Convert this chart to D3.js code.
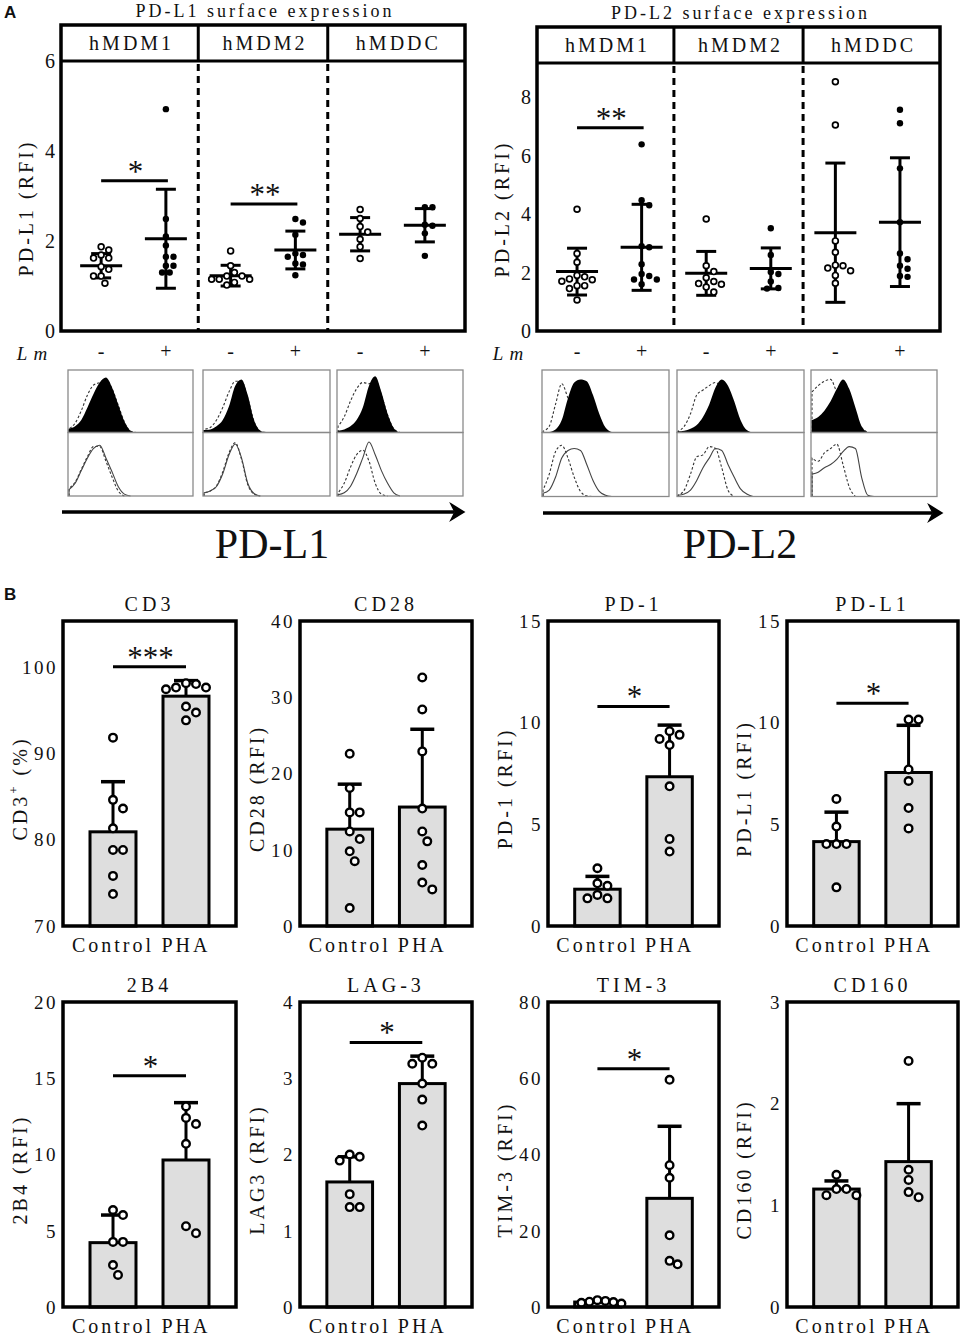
<!DOCTYPE html>
<html>
<head>
<meta charset="utf-8">
<script src="https://cdn.jsdelivr.net/npm/d3@7"></script>
<style>
body { margin: 0; background: #fff; }
</style>
</head>
<body>
<svg id="fig" width="965" height="1339"></svg>
<script>
// ---------- Panel A: dot plots ----------
const cellTypes = ["hMDM1", "hMDM2", "hMDDC"];
const lmConds = ["hMDM1 -", "hMDM1 +", "hMDM2 -", "hMDM2 +", "hMDDC -", "hMDDC +"];
const lmSigns = ["-", "+", "-", "+", "-", "+"];

const pdl1_hMDM1_neg = [1.87, 1.80, 1.69, 1.62, 1.62, 1.43, 1.37, 1.22, 1.22, 1.06];
const pdl1_hMDM1_pos = [4.93, 2.49, 2.1, 1.9, 1.65, 1.65, 1.45, 1.45, 1.3, 1.3];
const pdl1_hMDM2_neg = [1.78, 1.45, 1.3, 1.22, 1.22, 1.15, 1.15, 1.15, 1.08, 1.02];
const pdl1_hMDM2_pos = [2.49, 2.41, 2.14, 1.72, 1.69, 1.65, 1.5, 1.48, 1.24];
const pdl1_hMDDC_neg = [2.7, 2.5, 2.32, 2.2, 2.04, 1.87, 1.61];
const pdl1_hMDDC_pos = [2.75, 2.75, 2.36, 2.34, 2.17, 1.67];
const pdl1Mean = [1.45, 2.05, 1.23, 1.8, 2.15, 2.35];
const pdl1Sd = [0.27, 1.1, 0.23, 0.42, 0.37, 0.37];
const pdl1Ticks = [0, 2, 4, 6];

const pdl2_hMDM1_neg = [4.16, 2.65, 2.35, 1.9, 1.85, 1.78, 1.75, 1.7, 1.55, 1.55, 1.45, 1.06];
const pdl2_hMDM1_pos = [6.38, 4.47, 4.3, 2.9, 2.86, 2.28, 1.95, 1.88, 1.76, 1.76, 1.6];
const pdl2_hMDM2_neg = [3.83, 2.23, 2.03, 1.82, 1.69, 1.62, 1.6, 1.5, 1.33];
const pdl2_hMDM2_pos = [3.51, 2.6, 2.02, 1.95, 1.69, 1.47, 1.45];
const pdl2_hMDDC_neg = [8.52, 7.04, 3.08, 2.69, 2.25, 2.23, 2.15, 2.06, 1.9, 1.63];
const pdl2_hMDDC_pos = [7.56, 7.1, 5.56, 3.72, 2.65, 2.45, 2.23, 2.13, 1.88, 1.85];
const pdl2Mean = [2.03, 2.86, 1.97, 2.14, 3.36, 3.72];
const pdl2Sd = [0.8, 1.47, 0.75, 0.7, 2.38, 2.2];
const pdl2Ticks = [0, 2, 4, 6, 8];

// ---------- Panel A: histograms (channel 0..20, relative height) ----------
const pdl1LmFill = [
  [0.06, 0.1, 0.2, 0.4, 0.62, 0.8, 0.88, 0.72, 0.45, 0.18, 0.03, 0],
  [0.04, 0.05, 0.1, 0.2, 0.42, 0.75, 0.85, 0.6, 0.2, 0.03, 0],
  [0.03, 0.05, 0.1, 0.2, 0.4, 0.75, 0.9, 0.65, 0.3, 0.07, 0]
];
const pdl1LmIso = [
  [0.06, 0.15, 0.35, 0.6, 0.76, 0.8, 0.85, 0.7, 0.44, 0.17, 0.02, 0],
  [0.05, 0.08, 0.2, 0.4, 0.65, 0.82, 0.82, 0.55, 0.18, 0.02, 0],
  [0.1, 0.25, 0.5, 0.7, 0.8, 0.78, 0.85, 0.6, 0.28, 0.06, 0]
];
const pdl1Ctrl = [
  [0.1, 0.2, 0.4, 0.6, 0.75, 0.8, 0.6, 0.38, 0.15, 0.03, 0],
  [0.05, 0.08, 0.15, 0.35, 0.65, 0.82, 0.6, 0.2, 0.04, 0],
  [0.02, 0.05, 0.15, 0.35, 0.6, 0.85, 0.65, 0.4, 0.2, 0.05, 0]
];
const pdl1CtrlIso = [
  [0.12, 0.22, 0.42, 0.62, 0.78, 0.78, 0.55, 0.3, 0.08, 0],
  [0.05, 0.08, 0.16, 0.38, 0.68, 0.84, 0.58, 0.18, 0.03, 0],
  [0.05, 0.2, 0.45, 0.65, 0.72, 0.55, 0.2, 0.03, 0]
];
const pdl2LmFill = [
  [0, 0.01, 0.05, 0.2, 0.55, 0.8, 0.85, 0.82, 0.6, 0.3, 0.08, 0.01, 0],
  [0.02, 0.03, 0.06, 0.12, 0.25, 0.45, 0.72, 0.85, 0.75, 0.5, 0.2, 0.04, 0],
  [0.2, 0.25, 0.35, 0.5, 0.7, 0.85, 0.7, 0.4, 0.1, 0]
];
const pdl2LmIso = [
  [0.02, 0.1, 0.45, 0.78, 0.55, 0.3, 0.1, 0.02, 0],
  [0.02, 0.1, 0.3, 0.6, 0.68, 0.75, 0.8, 0.7, 0.4, 0.15, 0.03, 0],
  [0.65, 0.75, 0.82, 0.85, 0.65, 0.55, 0.45, 0.25, 0.08, 0]
];
const pdl2Ctrl = [
  [0.05, 0.1, 0.3, 0.6, 0.72, 0.75, 0.72, 0.5, 0.25, 0.08, 0.02, 0],
  [0.02, 0.04, 0.1, 0.25, 0.45, 0.6, 0.75, 0.72, 0.5, 0.3, 0.12, 0.04, 0],
  [0.35, 0.38, 0.45, 0.5, 0.58, 0.7, 0.78, 0.75, 0.3, 0.02, 0]
];
const pdl2CtrlIso = [
  [0.1, 0.35, 0.7, 0.8, 0.6, 0.3, 0.08, 0.01, 0],
  [0.02, 0.1, 0.35, 0.62, 0.65, 0.78, 0.75, 0.45, 0.1, 0],
  [0.6, 0.55, 0.68, 0.75, 0.82, 0.5, 0.15, 0]
];

// ---------- Panel B: bar charts ----------
const groupsB = ["Control", "PHA"];
const cd3Ctrl = [91.8, 84.6, 83.6, 81.3, 78.8, 78.8, 75.8, 73.7];
const cd3Pha = [98.1, 98.0, 97.6, 97.6, 97.4, 95.4, 94.7, 93.8];
const cd3Mean = [80.9, 96.6], cd3Sd = [5.8, 1.8];
const cd28Ctrl = [22.6, 18.1, 14.9, 14.9, 12.4, 11.4, 9.8, 8.5, 2.35];
const cd28Pha = [32.6, 28.4, 22.9, 15.4, 12.4, 11.1, 8.0, 5.7, 4.8];
const cd28Mean = [12.7, 15.6], cd28Sd = [5.9, 10.2];
const pd1Ctrl = [2.84, 2.1, 1.98, 1.53, 1.36, 1.36];
const pd1Pha = [9.58, 9.4, 9.2, 8.9, 6.87, 4.28, 3.66];
const pd1Mean = [1.81, 7.34], pd1Sd = [0.63, 2.54];
const pdl1bCtrl = [6.25, 4.89, 4.03, 4.03, 4.03, 1.9];
const pdl1bPha = [10.15, 10.15, 7.7, 7.13, 5.8, 4.8];
const pdl1bMean = [4.15, 7.55], pdl1bSd = [1.45, 2.32];
const b2b4Ctrl = [6.36, 6.03, 4.27, 4.27, 2.75, 2.1];
const b2b4Pha = [13.15, 12.4, 12.0, 10.7, 5.3, 4.84];
const b2b4Mean = [4.22, 9.64], b2b4Sd = [1.81, 3.76];
const lag3Ctrl = [2.0, 1.97, 1.92, 1.48, 1.31, 1.31];
const lag3Pha = [3.27, 3.19, 3.19, 2.93, 2.72, 2.38];
const lag3Mean = [1.64, 2.93], lag3Sd = [0.33, 0.36];
const tim3Ctrl = [1.8, 1.6, 1.4, 1.3, 1.1, 0.9];
const tim3Pha = [59.6, 37.2, 33.9, 18.8, 12.1, 11.2];
const tim3Mean = [1.3, 28.5], tim3Sd = [0.3, 18.9];
const cd160Ctrl = [1.30, 1.16, 1.16, 1.1, 1.1];
const cd160Pha = [2.42, 1.35, 1.25, 1.13, 1.08];
const cd160Mean = [1.16, 1.43], cd160Sd = [0.08, 0.57];

const svg = d3.select("#fig");
const serif = "'Liberation Serif', 'Times New Roman', serif";

function txt(g, x, y, s, size, opt = {}) {
  return g.append("text")
    .attr("x", x).attr("y", y)
    .attr("text-anchor", opt.anchor || "middle")
    .attr("font-family", opt.font || serif)
    .attr("font-size", size)
    .attr("font-weight", opt.bold ? "bold" : null)
    .attr("font-style", opt.italic ? "italic" : null)
    .attr("letter-spacing", opt.ls || 0)
    .attr("fill", "#111")
    .text(s);
}

// simple beeswarm: keep points at their value, push sideways when they overlap
function swarm(vals, y, cx, d) {
  const placed = [];
  vals.slice().sort((a, b) => b - a).forEach(v => {
    const py = y(v);
    let off = null;
    for (let k = 0; k < 40 && off === null; k++) {
      const cands = k === 0 ? [0] : [k * d / 2, -k * d / 2];
      for (const c of cands) {
        if (placed.every(p => Math.hypot(p.x - (cx + c), p.y - py) >= d - 0.01)) { off = c; break; }
      }
    }
    placed.push({ x: cx + off, y: py });
  });
  return placed;
}

function sigBar(g, xa, xb, yy, stars) {
  g.append("line").attr("x1", xa).attr("x2", xb).attr("y1", yy).attr("y2", yy)
    .attr("stroke", "#000").attr("stroke-width", 3);
  txt(g, (xa + xb) / 2 + 1, yy + 1, stars, 31, { ls: 0 });
}

// ---------- Panel A ----------
function dotPanel(o) {
  const g = svg.append("g");
  const x = d3.scalePoint().domain(lmConds).range([o.x0, o.x1]).padding(0.62);
  const y = d3.scaleLinear().domain(o.yDomain).range([o.bottom, o.headBottom]);
  const d1 = (x(lmConds[1]) + x(lmConds[2])) / 2;
  const d2 = (x(lmConds[3]) + x(lmConds[4])) / 2;
  const bounds = [o.x0, d1, d2, o.x1];

  txt(g, (o.x0 + o.x1) / 2 + 2, o.top - 8, o.title, 18, { ls: 3 });
  cellTypes.forEach((c, i) => txt(g, (bounds[i] + bounds[i + 1]) / 2 + 2, (o.top + o.headBottom) / 2 + 7, c, 20, { ls: 3 }));
  g.append("line").attr("x1", o.x0).attr("x2", o.x1).attr("y1", o.headBottom).attr("y2", o.headBottom)
    .attr("stroke", "#000").attr("stroke-width", 3);
  [d1, d2].forEach(dx => {
    g.append("line").attr("x1", dx).attr("x2", dx).attr("y1", o.top).attr("y2", o.headBottom)
      .attr("stroke", "#000").attr("stroke-width", 3);
    g.append("line").attr("x1", dx).attr("x2", dx).attr("y1", o.headBottom + 3).attr("y2", o.bottom)
      .attr("stroke", "#000").attr("stroke-width", 3).attr("stroke-dasharray", "7,5");
  });
  g.append("rect").attr("x", o.x0).attr("y", o.top).attr("width", o.x1 - o.x0).attr("height", o.bottom - o.top)
    .attr("fill", "none").attr("stroke", "#000").attr("stroke-width", 3.5);

  const ax = g.append("g").attr("transform", `translate(${o.x0 - 6},0)`)
    .call(d3.axisLeft(y).tickValues(o.ticks).tickSize(0).tickPadding(0).tickFormat(d3.format("d")));
  ax.select(".domain").remove();
  ax.attr("font-family", serif).attr("font-size", 20);
  ax.selectAll("text").attr("fill", "#111").attr("dy", "0.33em");

  g.append("text").attr("transform", `translate(${o.x0 - 28},${(o.headBottom + o.bottom) / 2 + 12}) rotate(-90)`)
    .attr("text-anchor", "middle").attr("font-family", serif).attr("font-size", 20)
    .attr("letter-spacing", 3).attr("fill", "#111").text(o.ylabel);

  // Lm row
  txt(g, o.x0 - 26, 360, "Lm", 19, { italic: true, ls: 6 });
  lmConds.forEach((c, i) => txt(g, x(c), 358, lmSigns[i], 20));

  // error bars + means
  lmConds.forEach((c, i) => {
    const cx = x(c), m = o.mean[i], s = o.sd[i];
    g.append("line").attr("x1", cx).attr("x2", cx).attr("y1", y(m - s)).attr("y2", y(m + s))
      .attr("stroke", "#000").attr("stroke-width", 3);
    [m - s, m + s].forEach(v => g.append("line").attr("x1", cx - 10).attr("x2", cx + 10)
      .attr("y1", y(v)).attr("y2", y(v)).attr("stroke", "#000").attr("stroke-width", 3));
    g.append("line").attr("x1", cx - 21).attr("x2", cx + 21).attr("y1", y(m)).attr("y2", y(m))
      .attr("stroke", "#000").attr("stroke-width", 3);
  });
  // points
  lmConds.forEach((c, i) => {
    const pts = swarm(o.points[i], y, x(c), 7.6);
    const open = lmSigns[i] === "-";
    g.selectAll(null).data(pts).enter().append("circle")
      .attr("cx", d => d.x).attr("cy", d => d.y)
      .attr("r", open ? 2.9 : 3.2)
      .attr("fill", open ? "#fff" : "#000")
      .attr("stroke", "#000").attr("stroke-width", open ? 1.7 : 0);
  });
  o.sig.forEach(s => sigBar(g, x(lmConds[s[0]]), x(lmConds[s[1]]) + 2, y(s[2]), s[3]));
}

function histGroup(o) {
  const g = svg.append("g");
  const trim = arr => {
    let last = arr.length - 1;
    while (last > 0 && arr[last] === 0) last--;
    return arr.slice(0, Math.min(arr.length, last + 2));
  };
  o.boxes.forEach((b, i) => {
    const x = d3.scaleLinear().domain([0, 20]).range([b[0] + 1, b[1] - 1]);
    const yT = d3.scaleLinear().domain([0, 1]).range([o.mid, o.top]);
    const yB = d3.scaleLinear().domain([0, 1]).range([o.bottom, o.mid]);
    const path = (arr, ys, base) => {
      const ln = d3.line().x((d, j) => x(j)).y(d => ys(d)).curve(d3.curveMonotoneX);
      return `M${x(0)},${base}L` + ln(trim(arr)).slice(1);
    };
    // top row: isotype dashed then filled stained
    g.append("path").attr("d", path(o.topIso[i], yT, o.mid)).attr("fill", "none")
      .attr("stroke", "#333").attr("stroke-width", 1.1).attr("stroke-dasharray", "2.5,2");
    const ar = d3.area().x((d, j) => x(j)).y0(o.mid).y1(d => yT(d)).curve(d3.curveMonotoneX);
    g.append("path").attr("d", ar(trim(o.topFill[i]))).attr("fill", "#000");
    g.append("line").attr("x1", x(0)).attr("x2", x(0)).attr("y1", o.mid).attr("y2", yT(o.topFill[i][0]))
      .attr("stroke", "#000").attr("stroke-width", 1.2);
    // bottom row
    g.append("path").attr("d", path(o.botIso[i], yB, o.bottom)).attr("fill", "none")
      .attr("stroke", "#333").attr("stroke-width", 1.1).attr("stroke-dasharray", "2.5,2");
    g.append("path").attr("d", path(o.botSolid[i], yB, o.bottom)).attr("fill", "none")
      .attr("stroke", "#444").attr("stroke-width", 1.1);
    // frames
    g.append("rect").attr("x", b[0]).attr("y", o.top).attr("width", b[1] - b[0]).attr("height", o.mid - o.top)
      .attr("fill", "none").attr("stroke", "#8a8a8a").attr("stroke-width", 1.3);
    g.append("rect").attr("x", b[0]).attr("y", o.mid).attr("width", b[1] - b[0]).attr("height", o.bottom - o.mid)
      .attr("fill", "none").attr("stroke", "#8a8a8a").attr("stroke-width", 1.3);
  });
  // arrow
  g.append("line").attr("x1", o.arrow[0]).attr("x2", o.arrow[1] - 10).attr("y1", o.arrowY).attr("y2", o.arrowY)
    .attr("stroke", "#000").attr("stroke-width", 3.5);
  const tx = o.arrow[1], ty = o.arrowY;
  g.append("path").attr("d", `M${tx - 13},${ty - 8}L${tx},${ty}L${tx - 13},${ty + 8}L${tx - 9},${ty}Z`).attr("fill", "#000")
    .attr("stroke", "#000").attr("stroke-width", 1.5).attr("stroke-linejoin", "miter");
  txt(g, o.labelX, 558, o.label, 42);
}

// ---------- Panel B ----------
function barPanel(o) {
  const g = svg.append("g");
  const x = d3.scaleBand().domain(groupsB).range([o.x0, o.x1]).paddingInner(0.37).paddingOuter(0.37);
  const y = d3.scaleLinear().domain(o.yDomain).range([o.bottom, o.top]);
  const pts = [o.ctrl, o.pha];

  groupsB.forEach((c, i) => {
    g.append("rect").attr("x", x(c)).attr("y", y(o.mean[i])).attr("width", x.bandwidth())
      .attr("height", o.bottom - y(o.mean[i])).attr("fill", "#dedede").attr("stroke", "#000").attr("stroke-width", 3);
    const cx = x(c) + x.bandwidth() / 2;
    const top = y(o.mean[i] + o.sd[i]);
    g.append("line").attr("x1", cx).attr("x2", cx).attr("y1", y(o.mean[i])).attr("y2", top)
      .attr("stroke", "#000").attr("stroke-width", 3);
    g.append("line").attr("x1", cx - 12).attr("x2", cx + 12).attr("y1", top).attr("y2", top)
      .attr("stroke", "#000").attr("stroke-width", 3.5);
  });
  groupsB.forEach((c, i) => {
    const cx = x(c) + x.bandwidth() / 2;
    const p = swarm(pts[i], y, cx, o.spread || 10);
    g.selectAll(null).data(p).enter().append("circle")
      .attr("cx", d => d.x).attr("cy", d => d.y).attr("r", 3.8)
      .attr("fill", "#fff").attr("stroke", "#000").attr("stroke-width", 2.4);
  });
  if (o.sig) {
    const xa = x("Control") + x.bandwidth() / 2, xb = x("PHA") + x.bandwidth() / 2;
    sigBar(g, xa, xb, y(o.sig[0]), o.sig[1]);
  }
  g.append("rect").attr("x", o.x0).attr("y", o.top).attr("width", o.x1 - o.x0).attr("height", o.bottom - o.top)
    .attr("fill", "none").attr("stroke", "#000").attr("stroke-width", 3.5);

  const ax = g.append("g").attr("transform", `translate(${o.x0 - 5},0)`)
    .call(d3.axisLeft(y).tickValues(o.ticks).tickSize(0).tickPadding(0).tickFormat(d3.format("d")));
  ax.select(".domain").remove();
  ax.attr("font-family", serif).attr("font-size", 19);
  ax.selectAll("text").attr("fill", "#111").attr("dy", "0.33em").attr("letter-spacing", 2.5);

  const bx = g.append("g").attr("transform", `translate(0,${o.bottom + 26})`)
    .call(d3.axisBottom(x).tickSize(0).tickPadding(0));
  bx.select(".domain").remove();
  bx.attr("font-family", serif).attr("font-size", 20);
  bx.selectAll("text").attr("fill", "#111").attr("dy", null).attr("y", 0).attr("letter-spacing", 3);

  txt(g, (o.x0 + o.x1) / 2, o.top - 10, o.title, 20, { ls: 4 });
  const yl = g.append("text")
    .attr("transform", `translate(${o.x0 - 36},${(o.top + o.bottom) / 2 + 15}) rotate(-90)`)
    .attr("text-anchor", "middle").attr("font-family", serif).attr("font-size", 20)
    .attr("letter-spacing", 3).attr("fill", "#111");
  if (o.sup) {
    yl.append("tspan").text(o.ylabel[0]);
    yl.append("tspan").attr("dy", -9).attr("font-size", 13).text(o.sup);
    yl.append("tspan").attr("dy", 9).text(o.ylabel[1]);
  } else {
    yl.text(o.ylabel);
  }
}

// ---------- draw ----------
txt(svg, 4, 18, "A", 17, { anchor: "start", bold: true, font: "'Liberation Sans', Arial, sans-serif" });
txt(svg, 4, 600, "B", 17, { anchor: "start", bold: true, font: "'Liberation Sans', Arial, sans-serif" });

dotPanel({
  x0: 61, x1: 465, top: 25, headBottom: 61, bottom: 331, yDomain: [0, 6], ticks: pdl1Ticks,
  title: "PD-L1 surface expression", ylabel: "PD-L1 (RFI)",
  points: [pdl1_hMDM1_neg, pdl1_hMDM1_pos, pdl1_hMDM2_neg, pdl1_hMDM2_pos, pdl1_hMDDC_neg, pdl1_hMDDC_pos],
  mean: pdl1Mean, sd: pdl1Sd,
  sig: [[0, 1, 3.34, "*"], [2, 3, 2.82, "**"]]
});
dotPanel({
  x0: 537, x1: 940, top: 27, headBottom: 63, bottom: 331, yDomain: [0, 9.16], ticks: pdl2Ticks,
  title: "PD-L2 surface expression", ylabel: "PD-L2 (RFI)",
  points: [pdl2_hMDM1_neg, pdl2_hMDM1_pos, pdl2_hMDM2_neg, pdl2_hMDM2_pos, pdl2_hMDDC_neg, pdl2_hMDDC_pos],
  mean: pdl2Mean, sd: pdl2Sd,
  sig: [[0, 1, 6.95, "**"]]
});

histGroup({
  boxes: [[68, 193], [203, 330], [337, 463]], top: 370, mid: 432.5, bottom: 496,
  topFill: pdl1LmFill, topIso: pdl1LmIso, botSolid: pdl1Ctrl, botIso: pdl1CtrlIso,
  arrow: [62, 464], arrowY: 512, label: "PD-L1", labelX: 272
});
histGroup({
  boxes: [[542, 669], [677, 804], [811, 937]], top: 370, mid: 432.5, bottom: 496.5,
  topFill: pdl2LmFill, topIso: pdl2LmIso, botSolid: pdl2Ctrl, botIso: pdl2CtrlIso,
  arrow: [543, 942], arrowY: 513, label: "PD-L2", labelX: 740
});

const colsB = [[63, 236], [300, 472], [548, 719], [787, 958]];
const row1 = [621, 926], row2 = [1002, 1307];

barPanel({ x0: colsB[0][0], x1: colsB[0][1], top: row1[0], bottom: row1[1], yDomain: [70, 105.3], ticks: [70, 80, 90, 100],
  title: "CD3", ylabel: ["CD3", " (%)"], sup: "+", ctrl: cd3Ctrl, pha: cd3Pha, mean: cd3Mean, sd: cd3Sd, sig: [100, "***"] });
barPanel({ x0: colsB[1][0], x1: colsB[1][1], top: row1[0], bottom: row1[1], yDomain: [0, 40], ticks: [0, 10, 20, 30, 40],
  title: "CD28", ylabel: "CD28 (RFI)", ctrl: cd28Ctrl, pha: cd28Pha, mean: cd28Mean, sd: cd28Sd });
barPanel({ x0: colsB[2][0], x1: colsB[2][1], top: row1[0], bottom: row1[1], yDomain: [0, 15], ticks: [0, 5, 10, 15],
  title: "PD-1", ylabel: "PD-1 (RFI)", ctrl: pd1Ctrl, pha: pd1Pha, mean: pd1Mean, sd: pd1Sd, sig: [10.8, "*"] });
barPanel({ x0: colsB[3][0], x1: colsB[3][1], top: row1[0], bottom: row1[1], yDomain: [0, 15], ticks: [0, 5, 10, 15],
  title: "PD-L1", ylabel: "PD-L1 (RFI)", ctrl: pdl1bCtrl, pha: pdl1bPha, mean: pdl1bMean, sd: pdl1bSd, sig: [10.95, "*"] });
barPanel({ x0: colsB[0][0], x1: colsB[0][1], top: row2[0], bottom: row2[1], yDomain: [0, 20], ticks: [0, 5, 10, 15, 20],
  title: "2B4", ylabel: "2B4 (RFI)", ctrl: b2b4Ctrl, pha: b2b4Pha, mean: b2b4Mean, sd: b2b4Sd, sig: [15.17, "*"] });
barPanel({ x0: colsB[1][0], x1: colsB[1][1], top: row2[0], bottom: row2[1], yDomain: [0, 4], ticks: [0, 1, 2, 3, 4],
  title: "LAG-3", ylabel: "LAG3 (RFI)", ctrl: lag3Ctrl, pha: lag3Pha, mean: lag3Mean, sd: lag3Sd, sig: [3.47, "*"] });
barPanel({ x0: colsB[2][0], x1: colsB[2][1], top: row2[0], bottom: row2[1], yDomain: [0, 80], ticks: [0, 20, 40, 60, 80],
  title: "TIM-3", ylabel: "TIM-3 (RFI)", ctrl: tim3Ctrl, pha: tim3Pha, mean: tim3Mean, sd: tim3Sd, sig: [62.5, "*"], spread: 8 });
barPanel({ x0: colsB[3][0], x1: colsB[3][1], top: row2[0], bottom: row2[1], yDomain: [0, 3], ticks: [0, 1, 2, 3],
  title: "CD160", ylabel: "CD160 (RFI)", ctrl: cd160Ctrl, pha: cd160Pha, mean: cd160Mean, sd: cd160Sd });
</script>
</body>
</html>
